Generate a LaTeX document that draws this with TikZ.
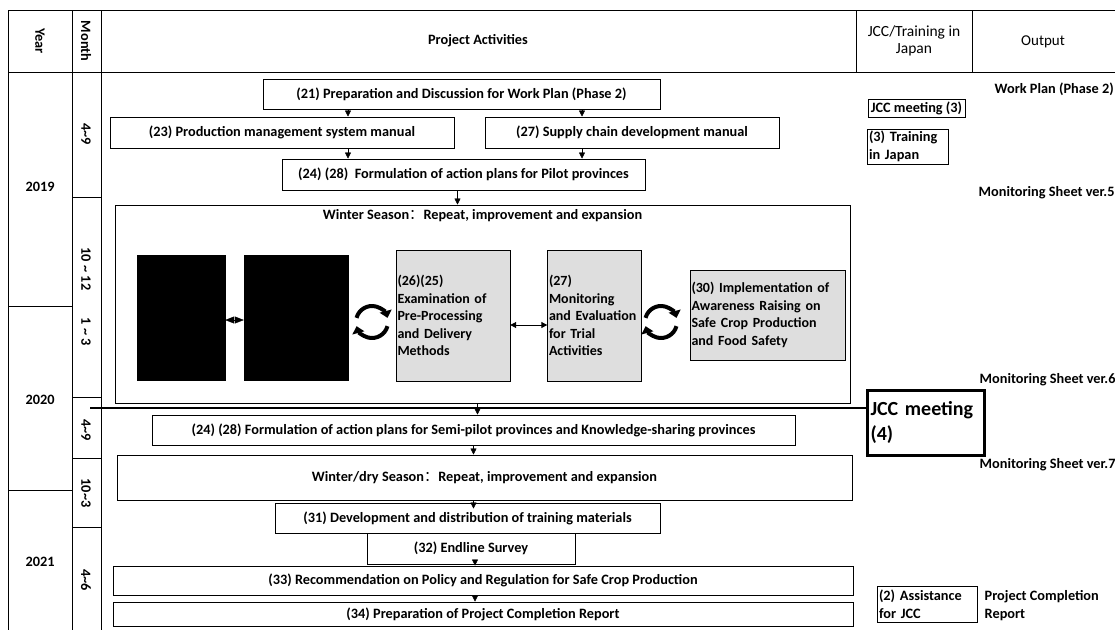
\documentclass[tikz,border=0pt]{standalone}
\usepackage{fontspec}
\setmainfont{Carlito}
\newfontfamily\cjkfont{Noto Sans CJK SC}
\usetikzlibrary{arrows.meta,positioning}
\hyphenpenalty=10000
\exhyphenpenalty=10000

\begin{document}
\begin{tikzpicture}[x=1pt,y=-1pt,->,>={Triangle[length=6pt,width=6pt]},
  every node/.style={font=\bfseries\fontsize{14.3}{17.5}\selectfont,inner sep=1.5pt},
  act/.style={draw,line width=1pt,minimum height=30pt},
  darkbox/.style={draw,fill=black,minimum width=#1,minimum height=125pt},
  greybox/.style={draw,fill=black!13,align=left,text width=#1,inner sep=1.5pt,
    font=\bfseries\fontsize{14}{17.5}\selectfont},
  smallbox/.style={draw,line width=0.8pt,align=left,inner sep=1pt},
  cycle/.style={line width=4pt,-{Triangle[length=7pt,width=12pt]}}]
  \useasboundingbox (0,0) rectangle (1115,630);
  % table frame
  \draw[-,line width=1pt] (8,10) -- (1115,10) (8,72) -- (1115,72);
  \foreach \x in {8,72,101} \draw[-,line width=1pt] (\x,10) -- (\x,630);
  \foreach \x in {856,972} \draw[-,line width=1pt] (\x,10) -- (\x,72);
  \foreach \y in {306,490} \draw[-,line width=0.8pt] (8,\y) -- (72,\y);
  \foreach \y in {197,397,458,527} \draw[-,line width=0.8pt] (72,\y) -- (101,\y);
  % header
  \node[rotate=-90] (year) at (40,41) {Year};
  \node[rotate=-90] (month) at (86,41) {Month};
  \node (acts) at (478,41) {Project Activities};
  \node[align=center,font=\fontsize{15.5}{17}\selectfont] (jcchead) at (914,41) {JCC/Training in\\Japan};
  \node[font=\fontsize{15}{17}\selectfont] (outhead) at (1043,42) {Output};
  % years and months
  \node (y2019) at (40,187) {2019};
  \node (y2020) at (40,400) {2020};
  \node (y2021) at (40,562) {2021};
  \node[rotate=-90] (m1) at (86,134) {4\textasciitilde9};
  \node[rotate=-90] (m2) at (86,269) {10 \textasciitilde{} 12};
  \node[rotate=-90] (m3) at (86,332) {1 \textasciitilde{} 3};
  \node[rotate=-90] (m4) at (86,430) {4\textasciitilde9};
  \node[rotate=-90] (m5) at (86,493) {10\textasciitilde3};
  \node[rotate=-90] (m6) at (86,580) {4\textasciitilde6};
  % phase 2 start
  \node[act,minimum width=397pt] (prep) at (461.5,94) {(21) Preparation and Discussion for Work Plan (Phase 2)};
  \node[act,minimum width=344pt,minimum height=31pt] (prodman) at (282,132.5) {(23) Production management system manual};
  \node[act,minimum width=294pt,minimum height=31pt] (supman) at (632,132.5) {(27) Supply chain development manual};
  \node[act,minimum width=363pt,minimum height=31pt] (pilot) at (463.5,174.5) {(24) (28)\ \ Formulation of action plans for Pilot provinces};
  \draw ([xshift=66pt]prodman.north |- prep.south) -- ([xshift=66pt]prodman.north);
  \draw ([xshift=-50pt]supman.north |- prep.south) -- ([xshift=-50pt]supman.north);
  \draw ([xshift=66pt]prodman.south) -- ([xshift=66pt]prodman.south |- pilot.north);
  \draw ([xshift=-50pt]supman.south) -- ([xshift=-50pt]supman.south |- pilot.north);
  % winter season
  \node[draw,line width=1pt,minimum width=735pt,minimum height=198pt] (winter) at (482.5,304) {};
  \node[anchor=north,yshift=-3pt] (wintitle) at (winter.north) {Winter Season{\cjkfont\mdseries ：}Repeat, improvement and expansion};
  \draw ([xshift=-6pt]pilot.south) -- ([xshift=-6pt]pilot.south |- winter.north);
  \node[darkbox=88pt] (trial1) at (181,317.5) {};
  \node[darkbox=104pt] (trial2) at (296,317.5) {};
  \node[greybox=111pt,minimum height=131pt] (deliv) at (453,315.5) {(26)(25)\\Examination of\\Pre-Processing\\and Delivery\\Methods};
  \node[greybox=91pt,minimum height=131pt] (monit) at (594.5,315.5) {(27)\\Monitoring\\and Evaluation\\for Trial\\Activities};
  \node[greybox=152pt,minimum height=90pt] (aware) at (767.5,315) {(30) Implementation of\\Awareness Raising on\\Safe Crop Production\\and Food Safety};
  \draw[{Triangle[length=9pt,width=7pt]}-{Triangle[length=9pt,width=7pt]}] (trial1.east |- 0,320) -- (trial2.west |- 0,320);
  \draw[<->,line width=1pt] (deliv.east |- 0,325) -- (monit.west |- 0,325);
  \coordinate (cyc1) at (372,322);
  \coordinate (cyc2) at (661,322);
  \foreach \c in {cyc1,cyc2} {
    \draw[cycle] ([shift={(165:16pt)}]\c) arc[start angle=165,end angle=15,radius=16pt];
    \draw[cycle] ([shift={(-15:16pt)}]\c) arc[start angle=-15,end angle=-165,radius=16pt];
  }
  % JCC meeting
  \node[draw,line width=3pt,minimum width=117pt,minimum height=65pt,align=left,text width=110pt,
    font=\bfseries\fontsize{20}{25}\selectfont,inner sep=1pt] (jcc4) at (925.5,422.5) {JCC meeting\\(4)};
  \coordinate (jccline) at (90,408);
  \draw[-,line width=2pt] (jccline) -- (jcc4.west |- jccline);
  % second half
  \node[act,minimum width=643pt] (semi) at (473.5,430) {(24) (28) Formulation of action plans for Semi-pilot provinces and Knowledge-sharing provinces};
  \draw ([xshift=-5pt]winter.south) -- ([xshift=-5pt]winter.south |- semi.north);
  \node[act,minimum width=735pt,minimum height=45pt] (dry) at (484.5,477.5) {Winter/dry Season{\cjkfont\mdseries ：}Repeat, improvement and expansion};
  \draw (semi) -- (semi.south |- dry.north);
  \node[act,minimum width=385pt] (train) at (467.5,518) {(31) Development and distribution of training materials};
  \draw (semi.south |- dry.south) -- ([yshift=-6pt]semi.south |- train.north);
  \node[act,minimum width=208pt,minimum height=31pt] (endline) at (471,548.5) {(32) Endline Survey};
  \node[act,minimum width=740pt,minimum height=29pt] (recom) at (483,580.5) {(33) Recommendation on Policy and Regulation for Safe Crop Production};
  \node[act,minimum width=740pt,minimum height=24pt] (report) at (483,614) {(34) Preparation of Project Completion Report};
  \draw ([xshift=4pt]endline.south) -- ([xshift=4pt]endline.south |- recom.north);
  \draw ([xshift=4pt]endline.south |- recom.south) -- ([xshift=4pt]endline.south |- report.north);
  % JCC / training column
  \node[smallbox,minimum width=97pt,minimum height=18pt] (jcc3) at (916.5,108) {JCC meeting (3)};
  \node[smallbox,minimum width=81pt,minimum height=35pt,text width=77pt] (japan) at (907.5,146.5) {(3) Training\\in Japan};
  \node[smallbox,minimum width=100pt,minimum height=36pt,text width=96pt] (assist) at (927,604) {(2) Assistance\\for JCC};
  % output column
  \node[anchor=west] (workplan) at (993,89) {Work Plan (Phase 2)};
  \node[anchor=west] (sheet5) at (977,193) {Monitoring Sheet ver.5};
  \node[anchor=west] (sheet6) at (978,380) {Monitoring Sheet ver.6};
  \node[anchor=west] (sheet7) at (978,465) {Monitoring Sheet ver.7};
  \node[anchor=west,align=left,font=\bfseries\fontsize{14.3}{18}\selectfont] (complete) at (983,606) {Project Completion\\Report};
\end{tikzpicture}
\end{document}
